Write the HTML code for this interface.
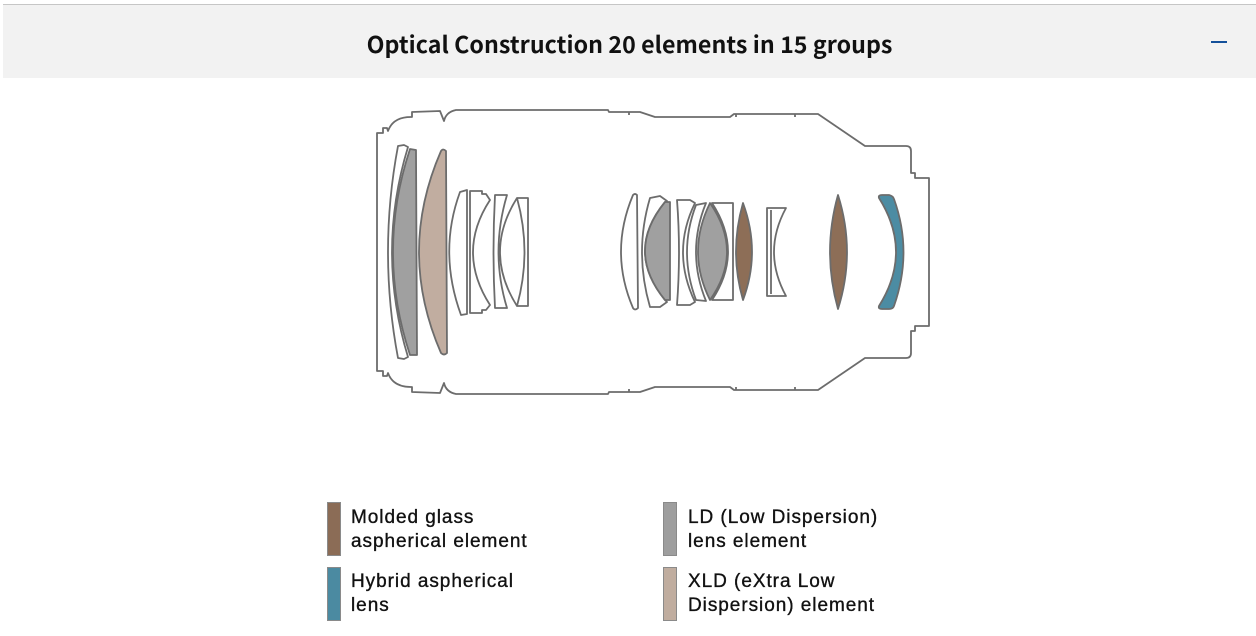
<!DOCTYPE html>
<html><head><meta charset="utf-8"><style>
html,body{margin:0;padding:0;background:#fff;width:1256px;height:636px;overflow:hidden;position:relative}
.hdr{position:absolute;left:3px;top:4px;width:1253px;height:73px;background:#f2f2f2;border-top:1px solid #c6c6c6}
.title{position:absolute;left:3px;width:1253px;top:26px;text-align:center;font-family:"Noto Sans CJK JP","Liberation Sans",sans-serif;font-weight:700;font-size:23.2px;letter-spacing:0.05px;line-height:34px;color:#111}
.dash{position:absolute;left:1211px;top:41px;width:16px;height:2px;background:#14509a}
.sw{position:absolute;width:12px;height:52px;border:1px solid #8a8a8a}
.lt{position:absolute;font-family:"Liberation Sans",Arial,sans-serif;font-size:19px;line-height:24px;letter-spacing:0.95px;color:#111;-webkit-text-stroke:0.35px #111}
svg{position:absolute;left:0;top:0}
</style></head><body>
<div class="hdr"></div>
<div class="title">Optical Construction 20 elements in 15 groups</div>
<div class="dash"></div>

<svg width="1256" height="636" viewBox="0 0 1256 636">
<g fill="#fff" stroke="#6c6c6c" stroke-width="1.8" stroke-linejoin="round">
<!-- barrel -->
<path d="M377,133 L383,133 L383,128 L387,128 L388,131 Q393,117 411,117 L412,117 L412,112 L440,111 L444,121 Q446,112 456,110 L608,110 L609,112 L640,112 L655,117 L730,117 L734,114 L818,114 L865,146 L906,146 Q911,146 911,151 L911,173 L915,173 L915,178 L929,178 L929,326 L915,326 L915,331 L911,331 L911,353 Q911,358 906,358 L865,358 L818,390 L734,390 L730,387 L655,387 L640,392 L609,392 L608,394 L456,394 Q446,392 444,383 L440,393 L412,392 L412,387 L411,387 Q393,387 388,373 L387,376 L383,376 L383,371 L377,371 Z"/>
<!-- front group -->
<path d="M398,146 L404,145 L408,147 Q376,252 408,357 L404,359 L398,358 Q378,252 398,146 Z"/>
<path fill="#a0a0a0" d="M410,149 L416,150 L417,355 L410,355 Q376,252 410,149 Z"/>
<path fill="#c1ada0" d="M441,151 Q443,148 446,151 L447,353 Q444,356 441,353 Q397,252 441,151 Z"/>
<path d="M460,192 L467,190 L467,314 L461,315 Q438,252 460,192 Z"/>
<path d="M470,191 L482,191 L482,194 L486,194 L490,200 Q456,252 490,305 L486,310 L482,310 L482,313 L470,313 Z"/>
<path d="M495,195 L507,195 Q490,252 507,308 L495,308 Q492,252 495,195 Z"/>
<path d="M517,198 L528,198 L528,306 L517,306 Q483,252 517,198 Z"/>
<path fill="none" d="M517,198 Q532,252 517,306"/>
<!-- middle group -->
<path d="M633,195 Q635,193 637,195 L638,308 Q635,311 633,308 Q609,252 633,195 Z"/>
<path d="M650,198 L660,196 L667,201 L665,202 Q625,251 665,300 L667,302 L660,307 L650,307 Q634,252 650,198 Z"/>
<path fill="#a0a0a0" d="M665,202 L670,202 L670,300 L665,300 Q625,251 665,202 Z"/>
<path d="M677,200 L690,200 L695,203 Q671,252 695,302 L690,305 L677,305 Q681,252 677,200 Z"/>
<path d="M696,205 L706,203 Q686,252 706,301 L696,300 Q678,252 696,205 Z"/>
<path d="M712,203 L733,203 L733,300 L712,300 Q744,252 712,203 Z"/>
<path fill="#a0a0a0" d="M710,203 Q744,252 710,300 Q686,252 710,203 Z"/>
<path fill="#8d6e57" d="M743,203 Q761,252 743,300 Q729,252 743,203 Z"/>
<path d="M767,208 L786,208 Q762,252 786,296 L767,296 Z"/>
<path fill="none" d="M771,210 L771,294"/>
<!-- rear group -->
<path fill="#8d6e57" d="M838,195 Q856,252 838,309 Q822,252 838,195 Z"/>
<path fill="#4c8ca3" d="M879,198 Q878,195 882,195 L889,195 Q893,196 894,199 Q913,252 894,306 Q893,309 889,309 L882,309 Q878,309 879,306 Q913,252 879,198 Z"/>
<!-- ticks -->
<path fill="none" d="M629,112 L629,115 M736,114 L736,117 M795,114 L795,117 M629,392 L629,389 M736,390 L736,387 M795,390 L795,387"/>
</g>
</svg>

<div class="sw" style="left:327px;top:502px;background:#8b6c56"></div>
<div class="lt" style="left:351px;top:506px">Molded glass<br>aspherical element</div>
<div class="sw" style="left:327px;top:567px;background:#4b8aa1"></div>
<div class="lt" style="left:351px;top:570px">Hybrid aspherical<br>lens</div>
<div class="sw" style="left:663px;top:502px;background:#9e9e9e"></div>
<div class="lt" style="left:688px;top:506px">LD (Low Dispersion)<br>lens element</div>
<div class="sw" style="left:663px;top:567px;background:#c0ad9f"></div>
<div class="lt" style="left:688px;top:570px">XLD (eXtra Low<br>Dispersion) element</div>
</body></html>
